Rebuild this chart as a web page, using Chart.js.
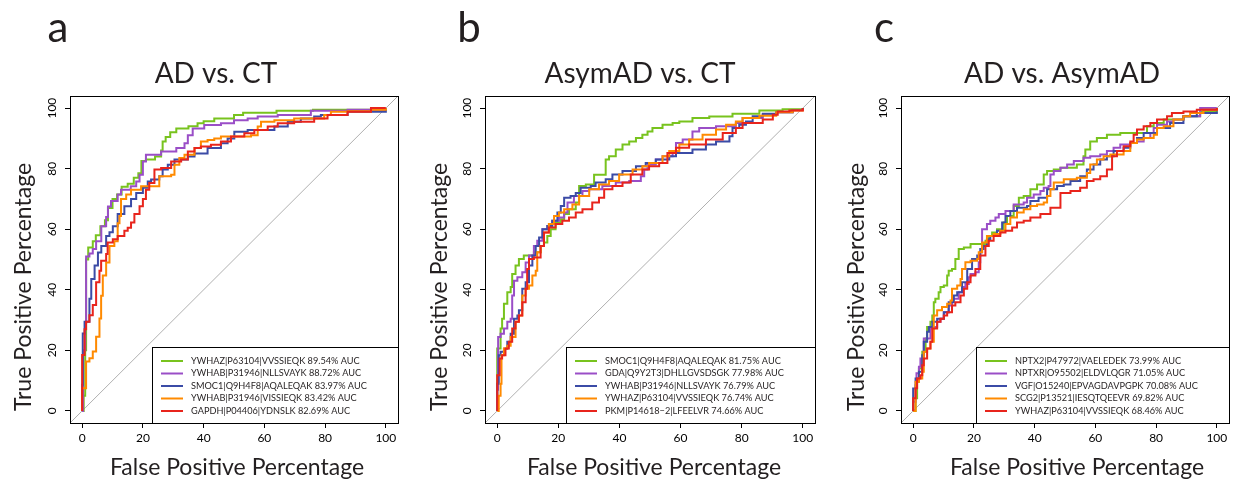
<!DOCTYPE html>
<html><head><meta charset="utf-8">
<script src="https://cdn.jsdelivr.net/npm/chart.js@4.4.1/dist/chart.umd.min.js"></script>
<style>
html,body{margin:0;padding:0;background:#fff;}
#wrap{position:relative;width:1236px;height:481px;overflow:hidden;background:#fff;}
canvas{position:absolute;top:0;}
</style></head><body>
<div id="wrap">
<canvas id="pa" style="left:0px" width="412" height="481"></canvas>
<canvas id="pb" style="left:415px" width="412" height="481"></canvas>
<canvas id="pc" style="left:831px" width="405" height="481"></canvas>
</div>
<script>
// ---------- data ----------
const axisTicks = [0, 20, 40, 60, 80, 100];
const axisMin = -4, axisMax = 104;
const chanceLine = [[-4, -4], [104, 104]];
const seriesColors = ['#78c31e', '#9a4ec7', '#3b4ba6', '#ff8a00', '#e8241c'];

const panelLetters = ['a', 'b', 'c'];
const panelTitles = ['AD vs. CT', 'AsymAD vs. CT', 'AD vs. AsymAD'];
const xAxisTitle = 'False Positive Percentage';
const yAxisTitle = 'True Positive Percentage';

// Panel a: AD vs. CT
const namesA = ['YWHAZ|P63104|VVSSIEQK', 'YWHAB|P31946|NLLSVAYK', 'SMOC1|Q9H4F8|AQALEQAK', 'YWHAB|P31946|VISSIEQK', 'GAPDH|P04406|YDNSLK'];
const aucA = [89.54, 88.72, 83.97, 83.42, 82.69];
const rocA1 = [[0,0],[0.5,5],[1,20],[1.3,50],[2,54],[3.5,56],[4.5,58],[6,61],[7.5,63],[8.5,67],[10,70],[11.5,71.5],[13,74],[15,75],[17,77],[18.5,78.5],[19.5,82.5],[21,83],[24,84],[26,86],[26.5,89],[27.5,90.5],[29,92],[31,93.3],[35,94],[38,95],[40,95.7],[43.5,96.6],[50,97.7],[53,98.5],[64,99.1],[76,99.5],[100,100]];
const rocA2 = [[0,0],[0.3,20],[1,29],[1.3,51],[2.4,52],[3.5,53.5],[4.6,56],[6.3,61],[7.9,64],[8.5,67.5],[9.5,69.3],[11.7,71.5],[12.8,73],[16,74.2],[17.8,75.8],[18.9,78],[20,82.4],[21,84.6],[26,85.7],[31,86.8],[33.7,88.4],[34.8,91],[36.4,93.3],[40.2,94.4],[45.7,95],[50,96],[54.5,96.6],[57.8,97.2],[64.4,97.7],[75.3,99.1],[87.4,99.5],[100,100]];
const rocA3 = [[0,0],[0,8.6],[0.2,25.6],[0.8,29.4],[2.4,37],[3,43.6],[4.1,48],[5.2,52.3],[6.3,54.5],[7.9,57.8],[9,59],[10.1,61],[11.7,65],[13.9,67.6],[16.1,70],[17.8,72],[20,73.7],[21.6,75.8],[22.7,76.4],[25.4,77.5],[26.5,79.7],[28.2,81.3],[30.4,83],[34.8,84],[37,85],[41.3,86.8],[45.7,88.4],[47.9,90],[50.1,92.2],[54.5,92.8],[63.3,93.9],[67.7,95.5],[72,96.6],[76.4,97.2],[78.6,97.7],[87.4,98.8],[100,99.3]];
const rocA4 = [[0,0],[0,3],[0,7.5],[1.3,16.3],[2.4,17.4],[3.5,19.6],[4.6,24.5],[5.7,30.5],[6.25,38],[6.8,44.7],[7.9,49],[9,54.5],[10.6,56],[11.7,62],[12.3,64.4],[12.8,70],[14.5,71.5],[16.1,73],[19.4,74.2],[25.4,77.5],[29.3,78],[30.4,81.3],[32,83.5],[33.7,84.6],[37,86.8],[39.1,89],[41.3,89.5],[43.5,90],[45.7,90.6],[55.6,91],[57.8,93.9],[58.9,95.5],[63.3,96],[69.8,96.6],[79.7,97.7],[81.9,98.8],[87.4,99],[95.1,99.5],[100,100]];
const rocA5 = [[0,0],[0,18.5],[0.8,27],[1.3,29.4],[2.4,31.6],[3.5,35],[4.6,42.5],[5.7,46.3],[6.25,49.6],[7.9,51.8],[8.4,55.6],[10.1,56.7],[11.7,57.8],[13.9,59.5],[15,60.5],[16.1,62.2],[17.2,65],[18.9,67.6],[20,70],[21,73],[22.1,75.3],[23.8,79.7],[26,80.2],[29.3,82.4],[32.6,83],[34.8,85.7],[37,86.8],[39.1,87.3],[42.4,87.9],[45.7,89],[49,90.6],[53.4,91.7],[56.7,92.8],[61.1,93.9],[64.4,95],[69.8,95.5],[76.4,96.6],[80.8,97.7],[87.4,98.8],[95.1,100],[100,100]];

// Panel b: AsymAD vs. CT
const namesB = ['SMOC1|Q9H4F8|AQALEQAK', 'GDA|Q9Y2T3|DHLLGVSDSGK', 'YWHAB|P31946|NLLSVAYK', 'YWHAZ|P63104|VVSSIEQK', 'PKM|P14618\u22122|LFEELVR'];
const aucB = [81.75, 77.98, 76.79, 76.74, 74.66];
const rocB1 = [[0,0],[0,10],[0,20.6],[1.1,27.2],[1.6,30.4],[2.2,35.4],[3.3,39.2],[4.4,40.9],[4.9,45.2],[6,48],[7.1,50.2],[8.7,51.3],[12,52.4],[14.2,54.5],[15.3,55.6],[16.4,57.8],[17.5,60],[19.1,62.2],[20.8,63.3],[21.9,65],[23.5,66.6],[25.7,68.8],[26.8,74.3],[29,74.8],[31.7,78],[35.5,83],[36.6,84.1],[38.8,86.3],[41,88],[43.2,89],[45.4,90.1],[47.5,91.2],[49.2,92.3],[50.8,93.4],[54.1,94.5],[57.4,95.1],[59.6,95.6],[63.9,96.7],[69.4,97.2],[77,98.1],[85.8,99.2],[93.4,99.6],[100,100]];
const rocB2 = [[0,0],[0,7],[0.3,24.4],[1.1,25.5],[2.2,27.2],[3.3,29.4],[4.4,30.4],[4.9,38.1],[5.5,43],[6.6,44.1],[8.2,45.8],[9.3,49],[10.4,51.3],[12,54.5],[13.1,56.2],[14.8,60],[16.4,61.1],[18,62.8],[20.2,63.9],[21.9,65.5],[23,68.8],[25.1,71],[27.9,72.6],[30.1,73.2],[34.4,74.3],[38.8,75.4],[43.2,75.9],[47,77.5],[48.1,79.7],[49.2,81.4],[51.9,83],[54.1,84.1],[57.4,85.8],[58.5,88.5],[60.7,89.6],[63.9,92.3],[66.1,93.4],[71.6,94],[78.1,95.1],[80.3,96.7],[86.9,97.8],[91.3,98.6],[96.7,99.4],[100,100]];
const rocB3 = [[0,0],[0,9],[0.5,18.4],[1.1,19.5],[2.2,20.5],[3.3,22.8],[4.4,25.5],[5.5,30.4],[6.6,31.5],[7.1,33.2],[8.2,40.3],[9.3,42.5],[10.4,48],[11.5,51.3],[12.6,54.5],[13.7,57.3],[14.8,60],[16.4,61.1],[18,62.8],[19.7,65.5],[20.8,67.7],[21.9,70.4],[24,71],[25.7,72],[27.3,73.7],[30.6,74.3],[32.2,75.4],[35.5,76.5],[37.7,78.1],[41,79.2],[45.4,80.8],[48.6,81.9],[51.9,83],[56.3,84.1],[58.5,85.2],[63.9,86.3],[68.3,88],[71.6,89],[76,90.7],[77,93.4],[79.2,94.5],[81.4,95.6],[83.6,97.3],[86.9,98.1],[91.3,98.6],[96.7,99.4],[100,100]];
const rocB4 = [[0,0],[0.5,5],[1.1,9],[1.4,18.4],[2.2,20.6],[3.3,21.5],[4.4,24.4],[6,29.4],[7.1,31.5],[8.2,38.1],[9.3,40.3],[10.4,41.4],[11.5,44.7],[12.6,46.3],[13.1,52.4],[14.2,54.5],[15.3,58.9],[16.9,61.7],[18.6,64.4],[20.2,65.5],[21.9,66.6],[24.6,68.2],[26.8,71],[30.1,73.2],[33.3,74.8],[36.6,75.9],[39.9,78.1],[44.3,79.7],[47.5,80.8],[49.7,81.9],[54.1,84.1],[56.3,85.8],[59.6,88],[62.8,89.6],[67.2,91.2],[71.6,92.9],[74.9,94.5],[78.1,95.6],[80.3,96.7],[85.8,97.5],[91.3,98.6],[96.7,99.2],[100,99.5]];
const rocB5 = [[0,0],[0,11.8],[0.8,17.3],[1.6,18.4],[2.7,20.6],[3.8,22.8],[4.9,27.2],[6,29.4],[7.1,31.5],[8.2,35.9],[9.3,40.3],[9.8,46.9],[10.4,50.2],[12,50.7],[14.2,54.5],[15.3,58.9],[16.9,60.6],[19.1,61.7],[21.3,62.8],[23.5,63.9],[25.7,65.5],[27.9,66.6],[31.1,68.8],[33.3,70.4],[35,73.2],[37.7,74.3],[41,75.4],[43.7,78.1],[47.5,79.7],[49.7,80.8],[53,81.9],[55.7,85.2],[58.5,86.9],[62.8,88],[68.3,89.6],[73.8,91.8],[78.1,93.4],[80.3,95.1],[86.9,96.2],[90.2,97.8],[91.8,98.9],[95.6,99.2],[100,100]];

// Panel c: AD vs. AsymAD
const namesC = ['NPTX2|P47972|VAELEDEK', 'NPTXR|O95502|ELDVLQGR', 'VGF|O15240|EPVAGDAVPGPK', 'SCG2|P13521|IESQTQEEVR', 'YWHAZ|P63104|VVSSIEQK'];
const aucC = [73.99, 71.05, 70.08, 69.82, 68.46];
const rocC1 = [[0,0],[0.8,4.2],[1.3,9.6],[1.9,14],[3,19.5],[4.1,23.9],[4.6,27.7],[5.7,29.4],[6.3,31.5],[6.8,35.9],[7.3,37],[8.4,39.2],[9,40.9],[10.1,41.4],[11.2,44.7],[11.7,46.3],[12.8,46.9],[13.9,50.2],[15,53.5],[16.7,54],[18.9,55.1],[23.8,56.2],[24.9,57.8],[26,58.9],[27.6,60],[29.8,62.2],[30.9,64.4],[33.1,67.7],[34.8,70.4],[36.4,71],[38.6,73.2],[40.8,74.8],[43,78.1],[44.1,79.2],[46.3,79.7],[48.5,80.3],[53.9,81.4],[56.1,84.1],[56.7,86.3],[58.3,89],[60.5,90.1],[63.8,91.2],[68.2,91.8],[77,94],[79.2,95.1],[82.5,96.2],[89,97.3],[94.5,98.9],[100,100]];
const rocC2 = [[0,0],[0,3],[0.8,8.5],[1.1,12.4],[1.9,14.6],[2.4,17.3],[3.5,23.9],[5.7,27.2],[6.8,27.7],[7.9,29.4],[9,30.4],[10.1,32.6],[11.7,34.8],[12.8,37],[15,39.2],[16.1,40.9],[17.2,41.9],[18.3,44.1],[18.9,45.2],[20.5,45.8],[21.6,49.1],[22.1,52.4],[22.7,60],[24.3,61.7],[25.4,62.8],[27.1,63.9],[28.2,65],[30.4,66],[33.1,68.2],[36.4,68.8],[37.5,70.4],[39.7,71.5],[41.9,72.6],[43,73.7],[44.6,74.3],[45.2,78.1],[46.3,79.2],[48.5,80.3],[50.7,81.4],[52.9,82.5],[56.1,83.6],[58.3,84.1],[61.6,84.7],[63.8,85.8],[66,86.9],[68.2,88],[71.5,88.5],[73.7,89],[75.9,90.1],[78.1,91.8],[79.2,93.4],[80.3,94.5],[83.6,95.6],[85.7,96.2],[89,97.3],[94.5,100],[100,100]];
const rocC3 = [[0,0],[0,7.4],[0.8,10.7],[1.9,12.9],[3,18.4],[3.5,22.8],[4.6,26.1],[5.2,27.7],[6.3,29.4],[7.9,30.4],[10.1,32.6],[11.7,35.9],[13.4,38.1],[14.5,39.2],[16.1,42.5],[17.8,46.9],[19.4,50.2],[21.1,51.3],[22.1,53.5],[23.2,54.5],[24.3,56.7],[25.4,57.8],[27.6,59.5],[29.3,62.2],[30.4,64.4],[32,66],[34.2,67.1],[37.5,67.7],[38.6,69.3],[41.3,70.4],[44.1,73.2],[47.4,74.3],[49.6,74.8],[51.8,75.9],[55,77.5],[57.2,79.7],[59.4,81.4],[61.6,83],[63.8,84.1],[66,85.8],[69.3,86.9],[71.5,88.5],[73.7,90.1],[75.9,91.8],[80.3,93.4],[84.6,95.1],[89,97.3],[93.4,98.4],[100,98.9]];
const rocC4 = [[0,0],[0.8,9.6],[1.9,10.7],[3,12.9],[3.5,19.5],[4.6,20.6],[5.7,22.8],[6.8,31.5],[7.9,33.2],[9.5,34.3],[11.2,35.4],[12.3,36.5],[12.8,40.3],[14.5,41.4],[15.6,43.6],[16.1,46.9],[17.2,49.1],[18.9,49.6],[21.1,50.2],[21.6,52.4],[22.7,55.6],[24.3,57.8],[26.5,58.4],[28.7,59.5],[30.4,61.7],[32,63.9],[34.2,65.5],[36.4,66.6],[38.6,67.7],[40.8,68.2],[43,68.8],[44.1,71],[45.2,73.2],[46.3,75.4],[49.6,76.5],[53.9,77],[57.2,78.6],[58.3,81.4],[60.5,83],[62.7,84.1],[64.9,84.7],[69.3,85.8],[71.5,88.5],[73.7,89.6],[75.9,90.1],[79.2,91.2],[80.3,93.4],[82.5,94],[85.7,96.2],[89,97.3],[91.2,98.4],[95.6,99.5],[100,100]];
const rocC5 = [[0,0],[0,4.2],[0.8,7.5],[1.3,10.7],[2.4,11.8],[3,15.1],[3.5,17.3],[4.6,20.6],[5.7,22.8],[6.3,27.2],[7.9,29.4],[9,30.4],[10.1,31.5],[11.2,32.6],[12.8,34.8],[13.9,35.9],[15.6,38.1],[16.7,40.3],[17.8,42.5],[18.9,44.7],[20.5,46.9],[22.1,51.3],[23.8,54.5],[24.9,56.2],[26.5,57.8],[28.7,58.9],[30.4,59.5],[32.6,60.6],[34.2,62.2],[36.4,62.8],[38.6,63.9],[41.9,65],[45.2,67.1],[48.5,72],[51.8,72.6],[55,73.7],[57.2,75.9],[59.4,76.5],[61.6,77.5],[63.8,79.7],[65.5,84.1],[67.1,85.8],[69.3,87.4],[71.5,89],[72.6,91.2],[73.7,92.9],[75.9,94],[78.1,95.1],[80.3,96.2],[83.6,97.3],[85.2,98.4],[89,98.9],[93.4,99.5],[100,100]];

// ---------- layout / style ----------
const FONT = 'Lato, "Open Sans", sans-serif';
const TEXT_COLOR = '#231f20';
const panels = [
  {id:'pa', left:0,   padL:40, padR:14, letterX:58,  titleX:216,  xTitleX:237,  yTitleX:24,  names:namesA, auc:aucA, rocs:[rocA1,rocA2,rocA3,rocA4,rocA5]},
  {id:'pb', left:415, padL:40, padR:12, letterX:469, titleX:640,  xTitleX:654,  yTitleX:440, names:namesB, auc:aucB, rocs:[rocB1,rocB2,rocB3,rocB4,rocB5]},
  {id:'pc', left:831, padL:40, padR:7,  letterX:884, titleX:1062, xTitleX:1077, yTitleX:857, names:namesC, auc:aucC, rocs:[rocC1,rocC2,rocC3,rocC4,rocC5]}
];

const decorPlugin = {
  id: 'decor',
  afterDatasetsDraw(chart, args, opts) {
    const ctx = chart.ctx, ca = chart.chartArea;
    ctx.save();
    // legend box
    const items = chart.data.datasets.filter(d => d.inLegend);
    ctx.font = '9.2px ' + FONT;
    const maxW = Math.max(...items.map(d => ctx.measureText(d.label).width));
    const bw = Math.round(maxW + 70), bh = 76;
    const bx = ca.right - bw, by = ca.bottom - bh;
    ctx.fillStyle = '#fff';
    ctx.fillRect(bx, by, bw, bh);
    items.forEach((d, i) => {
      const y = by + 14 + i * 12.5;
      ctx.strokeStyle = d.borderColor; ctx.lineWidth = 2;
      ctx.beginPath(); ctx.moveTo(bx + 9, y); ctx.lineTo(bx + 31, y); ctx.stroke();
      ctx.fillStyle = TEXT_COLOR; ctx.textAlign = 'left'; ctx.textBaseline = 'middle';
      ctx.fillText(d.label, bx + 39, y);
    });
    ctx.strokeStyle = '#000'; ctx.lineWidth = 1;
    ctx.strokeRect(bx + 0.5, by + 0.5, bw, bh);
    // plot frame
    ctx.strokeRect(ca.left + 0.5, ca.top + 0.5, ca.right - ca.left, ca.bottom - ca.top);
    ctx.restore();
  },
  afterDraw(chart, args, opts) {
    const ctx = chart.ctx, off = opts.left;
    ctx.save();
    ctx.fillStyle = TEXT_COLOR;
    ctx.textAlign = 'center';
    ctx.textBaseline = 'alphabetic';
    ctx.font = '42px ' + FONT;
    ctx.fillText(opts.letter, opts.letterX - off, 42);
    ctx.font = '28px ' + FONT;
    ctx.fillText(opts.title, opts.titleX - off, 83);
    ctx.font = '23px ' + FONT;
    ctx.fillText(xAxisTitle, opts.xTitleX - off, 475);
    ctx.translate(opts.yTitleX - off, 287);
    ctx.rotate(-Math.PI / 2);
    ctx.textBaseline = 'middle';
    ctx.fillText(yAxisTitle, 0, 0);
    ctx.restore();
  }
};

Chart.defaults.font.family = FONT;

panels.forEach((p, pi) => {
  const datasets = p.rocs.map((roc, i) => ({
    label: p.names[i] + ' ' + p.auc[i].toFixed(2) + '% AUC',
    data: roc.map(([x, y]) => ({x, y})),
    borderColor: seriesColors[i],
    backgroundColor: seriesColors[i],
    borderWidth: 2,
    pointRadius: 0,
    stepped: 'before',
    fill: false,
    order: 5 - i,
    inLegend: true
  }));
  datasets.push({
    label: 'chance',
    data: chanceLine.map(([x, y]) => ({x, y})),
    borderColor: '#b0b0b0',
    borderWidth: 1,
    pointRadius: 0,
    fill: false,
    order: 10,
    inLegend: false
  });
  const tickOpts = () => ({
    display: true,
    color: '#000',
    font: {family: FONT, size: 12},
    autoSkip: false,
    callback: v => String(v)
  });
  new Chart(document.getElementById(p.id), {
    type: 'line',
    data: {datasets},
    plugins: [decorPlugin],
    options: {
      responsive: false,
      animation: false,
      layout: {padding: {left: p.padL, right: p.padR, top: 96, bottom: 28}},
      plugins: {
        legend: {display: false},
        tooltip: {enabled: false},
        decor: {left: p.left, letter: panelLetters[pi], title: panelTitles[pi], letterX: p.letterX, titleX: p.titleX, xTitleX: p.xTitleX, yTitleX: p.yTitleX}
      },
      scales: {
        x: {
          type: 'linear', min: axisMin, max: axisMax,
          afterBuildTicks: s => { s.ticks = axisTicks.map(v => ({value: v})); },
          afterFit: s => { s.height = 30; },
          grid: {display: true, drawOnChartArea: false, drawTicks: true, tickLength: 5, color: '#000', lineWidth: 1},
          border: {display: false},
          ticks: Object.assign(tickOpts(), {maxRotation: 0, minRotation: 0, padding: 3})
        },
        y: {
          type: 'linear', min: axisMin, max: axisMax,
          afterBuildTicks: s => { s.ticks = axisTicks.map(v => ({value: v})); },
          afterFit: s => { s.width = 30; },
          grid: {display: true, drawOnChartArea: false, drawTicks: true, tickLength: 5, color: '#000', lineWidth: 1},
          border: {display: false},
          ticks: Object.assign(tickOpts(), {minRotation: 90, maxRotation: 90, crossAlign: 'center', padding: 2})
        }
      }
    }
  });
});
</script>
</body></html>
